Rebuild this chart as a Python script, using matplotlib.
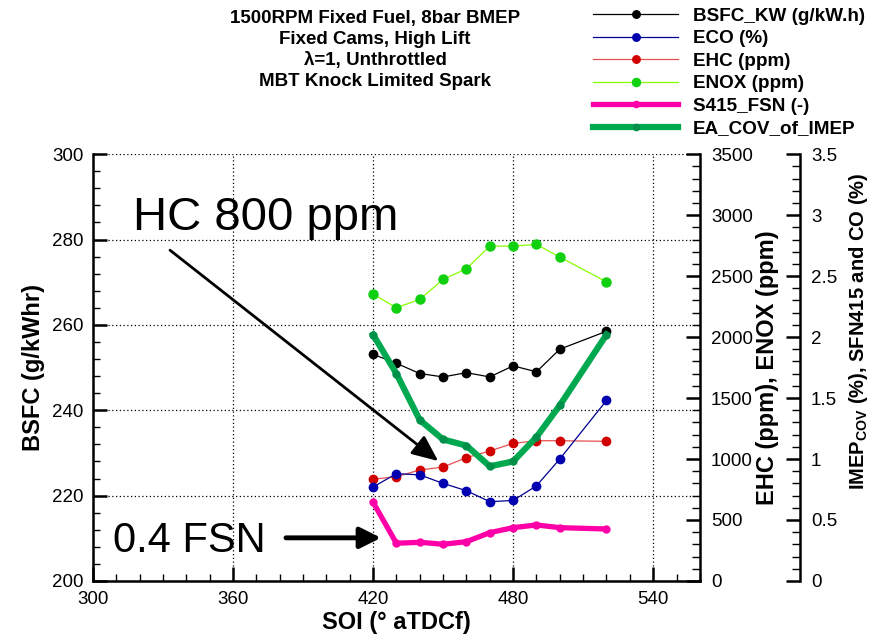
import numpy as np
import matplotlib
matplotlib.use("Agg")
import matplotlib.pyplot as plt
from matplotlib.ticker import MultipleLocator

# SOI sweep, 1500 rpm / 8 bar BMEP
soi = [420, 430, 440, 450, 460, 470, 480, 490, 500, 520]
bsfc = [253.1, 251.0, 248.6, 247.8, 248.8, 247.8, 250.4, 249.0, 254.3, 258.5]
eco = [0.77, 0.88, 0.87, 0.80, 0.74, 0.65, 0.66, 0.78, 1.00, 1.48]
ehc = [834, 855, 910, 934, 1011, 1066, 1128, 1150, 1150, 1145]
enox = [2353, 2240, 2309, 2473, 2560, 2746, 2746, 2760, 2656, 2453]
fsn = [0.645, 0.309, 0.317, 0.301, 0.322, 0.396, 0.437, 0.459, 0.437, 0.426]
cov = [2.02, 1.70, 1.32, 1.16, 1.11, 0.94, 0.98, 1.18, 1.44, 2.02]

x_ticks = [300, 360, 420, 480, 540]

plt.rcParams['font.family'] = ['Liberation Sans', 'DejaVu Sans']

fig = plt.figure(figsize=(8.77, 6.37), dpi=100)
ax = fig.add_axes([0.106, 0.088, 0.692, 0.670])
ax2 = ax.twinx()
ax3 = ax.twinx()
ax3.spines['right'].set_position(('axes', 1.165))

thin = 0.9
l1, = ax.plot(soi, bsfc, '-o', color='black', lw=thin, ms=6, label='BSFC_KW (g/kW.h)')
l2, = ax3.plot(soi, eco, '-o', color='#000090', mfc='#0000b0', mec='#0000b0', lw=thin, ms=6,
               label='ECO (%)')
l3, = ax2.plot(soi, ehc, '-o', color='#e85050', mfc='#d00000', mec='#d00000', lw=thin, ms=6,
               label='EHC (ppm)')
l4, = ax2.plot(soi, enox, '-o', color='#88ff00', mfc='#10d010', mec='#10d010', lw=thin, ms=6.5,
               label='ENOX (ppm)')
l5, = ax3.plot(soi, fsn, '-o', color='#ff00a8', lw=3.8, ms=5, label='S415_FSN (-)')
l6, = ax3.plot(soi, cov, '-o', color='#00a850', mfc='#00904a', mec='#00904a', lw=4.5, ms=5,
               label='EA_COV_of_IMEP')

ax.set_xlim(300, 560)
ax.set_ylim(200, 300)
ax2.set_ylim(0, 3500)
ax3.set_ylim(0, 3.5)

ax.set_xticks(x_ticks)
ax.xaxis.set_minor_locator(MultipleLocator(10))
ax.yaxis.set_major_locator(MultipleLocator(20))
ax.yaxis.set_minor_locator(MultipleLocator(4))
ax2.yaxis.set_major_locator(MultipleLocator(500))
ax2.yaxis.set_minor_locator(MultipleLocator(100))
ax3.yaxis.set_major_locator(MultipleLocator(0.5))
ax3.yaxis.set_minor_locator(MultipleLocator(0.1))
ax3.yaxis.set_major_formatter(plt.FuncFormatter(lambda v, p: ('%g' % v)))

ax.grid(True, which='major', color='black', ls=(0, (1, 2)), lw=0.9)

for a in (ax, ax2, ax3):
    a.spines['top'].set_visible(False)
    for s in a.spines.values():
        s.set_linewidth(1.8)
ax.spines['right'].set_visible(False)
for a in (ax2, ax3):
    a.spines['left'].set_visible(False)
    a.spines['bottom'].set_visible(False)
ax3.spines['right'].set_visible(True)

ax.tick_params(axis='both', which='major', direction='in', length=10, width=1.8,
               labelsize=13.5, pad=7)
ax.tick_params(axis='both', which='minor', direction='in', length=5, width=1)
ax.tick_params(axis='y', which='both', right=False)
ax.tick_params(axis='x', which='both', top=False)
for a in (ax2, ax3):
    a.tick_params(axis='y', which='major', direction='in', length=10, width=1.8,
                  labelsize=13.5, pad=8)
    a.tick_params(axis='y', which='minor', direction='in', length=6, width=1)

ax.set_xlabel('SOI (° aTDCf)', fontsize=17, fontweight='bold')
ax.xaxis.set_label_coords(0.5, -0.07)
ax.set_ylabel('BSFC (g/kWhr)', fontsize=17, fontweight='bold')
ax.yaxis.set_label_coords(-0.079, 0.5)
ax2.set_ylabel('EHC (ppm), ENOX (ppm)', fontsize=17, fontweight='bold')
ax2.yaxis.set_label_coords(1.092, 0.5)
ax3.set_ylabel(r'IMEP$_{\mathregular{COV}}$ (%), SFN415 and CO (%)', fontsize=14.5,
               fontweight='bold')
ax3.yaxis.set_label_coords(1.242, 0.585)

# callouts
ax.text(317, 282.2, 'HC 800 ppm', fontsize=34, va='baseline', ha='left')
ax.annotate('', xy=(447.9, 228.1), xytext=(333, 277.5),
            arrowprops=dict(arrowstyle='-|>,head_length=0.8,head_width=0.35',
                            lw=2, color='black', mutation_scale=20,
                            shrinkA=0, shrinkB=0))
ax.text(308.6, 206.8, '0.4 FSN', fontsize=30, va='baseline', ha='left')
ax.annotate('', xy=(423.4, 210.1), xytext=(382.7, 210.1),
            arrowprops=dict(arrowstyle='-|>,head_length=0.7,head_width=0.35',
                            lw=3.5, color='black', mutation_scale=18,
                            shrinkA=0, shrinkB=0))

fig.text(375 / 877, 1 - 10 / 637,
         '1500RPM Fixed Fuel, 8bar BMEP\nFixed Cams, High Lift\n'
         'λ=1, Unthrottled\nMBT Knock Limited Spark',
         ha='center', va='top', fontsize=13.5, fontweight='bold',
         linespacing=1.3)

handles = [l1, l2, l3, l4, l5, l6]
fig.legend(handles, [h.get_label() for h in handles], loc='upper left',
           bbox_to_anchor=(593 / 877, 0.988), frameon=False,
           prop={'weight': 'bold', 'size': 13.6}, handlelength=4.5,
           handletextpad=0.8, labelspacing=0.28, borderpad=0, borderaxespad=0,
           markerscale=0.9)

fig.savefig('out.png', dpi=100)
